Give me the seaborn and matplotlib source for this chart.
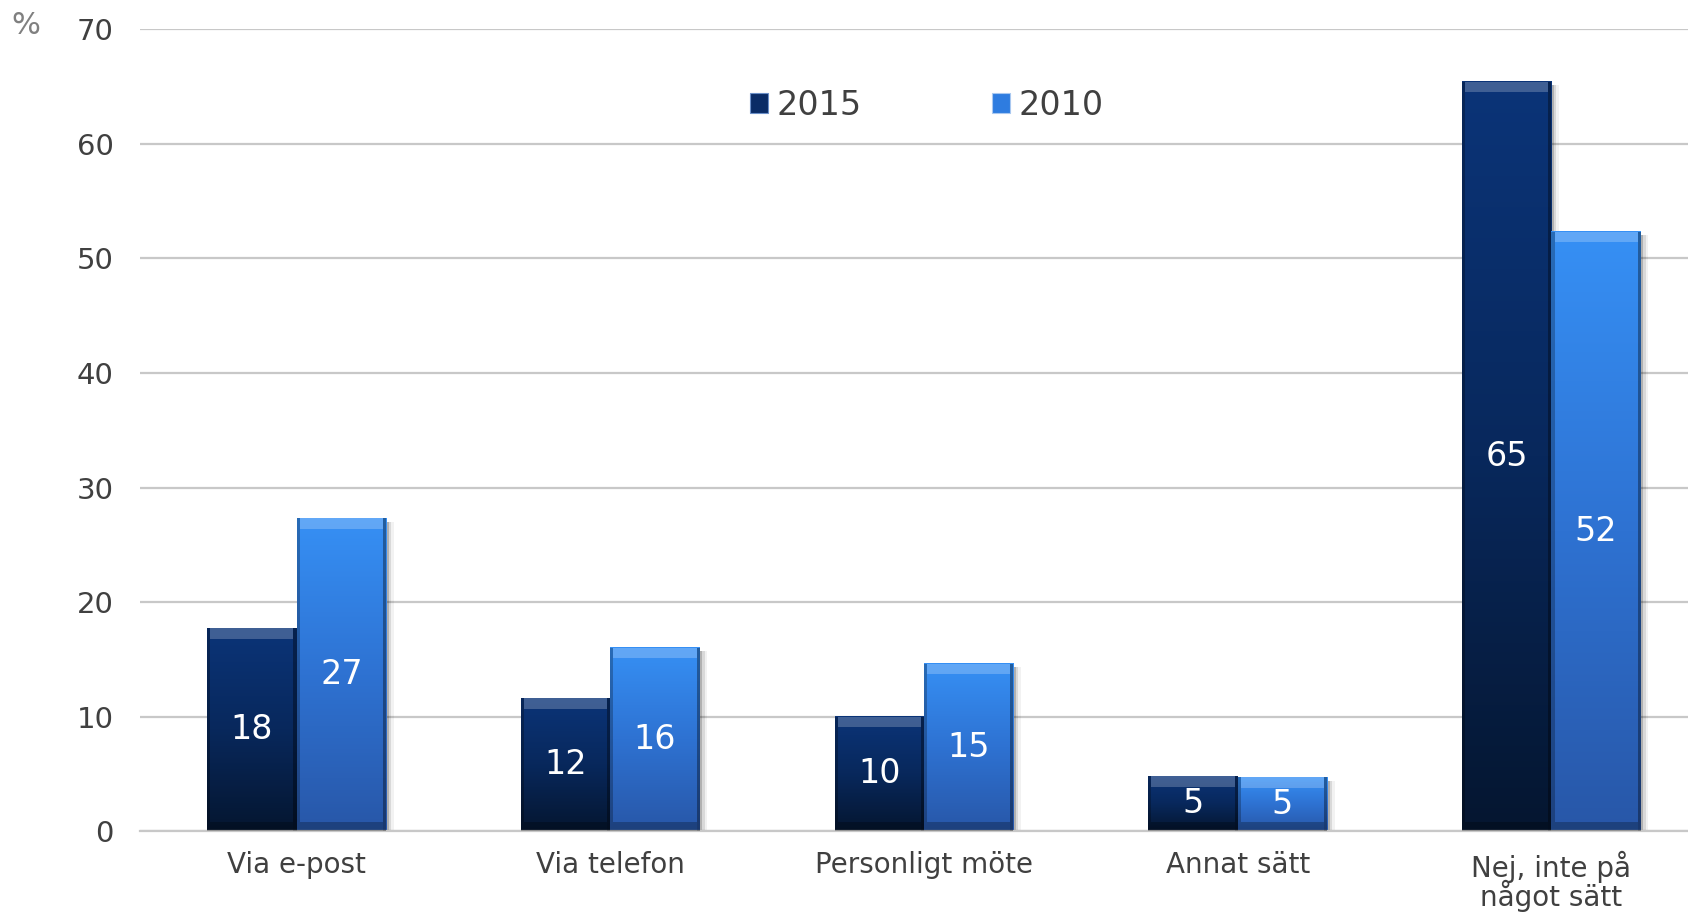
import numpy as np
import pandas as pd
import matplotlib
matplotlib.use("Agg")
from matplotlib import pyplot as plt
from matplotlib.colors import LinearSegmentedColormap
from matplotlib.patches import Patch, Rectangle
import seaborn as sns

# data
categories = ["Via e-post", "Via telefon", "Personligt möte", "Annat sätt", "Nej, inte på\nnågot sätt"]
years = ["2015", "2010"]
values_2015 = [17.7, 11.6, 10.0, 4.8, 65.4]
values_2010 = [27.3, 16.0, 14.6, 4.7, 52.3]

df = pd.DataFrame({
    "cat": categories * 2,
    "year": ["2015"] * 5 + ["2010"] * 5,
    "val": values_2015 + values_2010,
})

dark = "#0a3273"
light = "#2f84e8"
grads = {
    "2015": LinearSegmentedColormap.from_list("g15", ["#051630", "#08285c", "#0b3478"]),
    "2010": LinearSegmentedColormap.from_list("g10", ["#2857a8", "#2e72d2", "#3690f5"]),
}
text_col = "#404040"

sns.set_style("white")
plt.rcParams["font.family"] = ["DejaVu Sans"]

fig = plt.figure(figsize=(16.88, 9.14), dpi=100)
ax = fig.add_axes([0.0828, 0.0905, 0.9292, 0.8775])

sns.barplot(data=df, x="cat", y="val", hue="year", hue_order=years,
            palette={"2015": dark, "2010": light}, width=0.57, saturation=1,
            linewidth=0, legend=False, ax=ax)

# gradient + bevel + shadow per bar
for cont, yr in zip(ax.containers, years):
    for bar in cont:
        x, w, h = bar.get_x(), bar.get_width(), bar.get_height()
        # soft shadow on the right
        for k, a in enumerate([0.18, 0.10, 0.05]):
            ax.add_patch(Rectangle((x + w, 0), 0.008 * (k + 1), h - 0.3,
                                   color="#000000", alpha=a, lw=0, zorder=1))
        grad = np.linspace(0, 1, 256).reshape(-1, 1)
        ax.imshow(grad, extent=[x, x + w, 0, h], origin="lower", aspect="auto",
                  cmap=grads[yr], zorder=2)
        # top highlight strip
        ax.add_patch(Rectangle((x + 0.01, h - 0.9), w - 0.02, 0.9,
                               color="white", alpha=0.22, lw=0, zorder=3))
        # bottom dark strip
        ax.add_patch(Rectangle((x + 0.01, 0), w - 0.02, 0.8,
                               color="black", alpha=0.25, lw=0, zorder=3))
        # side edges
        ax.add_patch(Rectangle((x, 0), 0.01, h, color="black", alpha=0.25, lw=0, zorder=3))
        ax.add_patch(Rectangle((x + w - 0.01, 0), 0.01, h, color="black", alpha=0.35, lw=0, zorder=3))
        ax.text(x + w / 2, h / 2, f"{round(h):d}", ha="center", va="center",
                color="white", fontsize=24, zorder=4)

ax.set_ylim(0, 70)
ax.set_xlim(-0.5, 4.5)
ax.set_yticks(range(0, 71, 10))
ax.yaxis.grid(True, color="#c8c8c8", linewidth=1.6)
ax.set_axisbelow(True)
for s in ["left", "right", "top"]:
    ax.spines[s].set_visible(False)
ax.spines["bottom"].set_color("#c8c8c8")
ax.spines["bottom"].set_linewidth(1.6)
ax.tick_params(axis="both", length=0, labelcolor=text_col)
ax.tick_params(axis="y", pad=19, labelsize=21)
ax.tick_params(axis="x", pad=14, labelsize=20)
ax.set_xlabel("")
ax.set_ylabel("")
for lab in ax.get_xticklabels():
    lab.set_linespacing(0.88)

fig.text(0.007, 0.972, "%", color="#808080", fontsize=22, ha="left", va="center")

handles = [Patch(facecolor="#0a2c66", edgecolor="#6a8fc8", linewidth=0.8, label="2015"),
           Patch(facecolor="#2e7ce0", edgecolor="#a9c8f0", linewidth=0.8, label="2010")]
fig.legend(handles=handles, loc="center", bbox_to_anchor=(0.549, 0.885), ncol=2,
           frameon=False, fontsize=24, handlelength=0.55, handleheight=0.55,
           handletextpad=0.25, columnspacing=3.9, labelcolor=text_col)

fig.savefig("out.png", dpi=100)
